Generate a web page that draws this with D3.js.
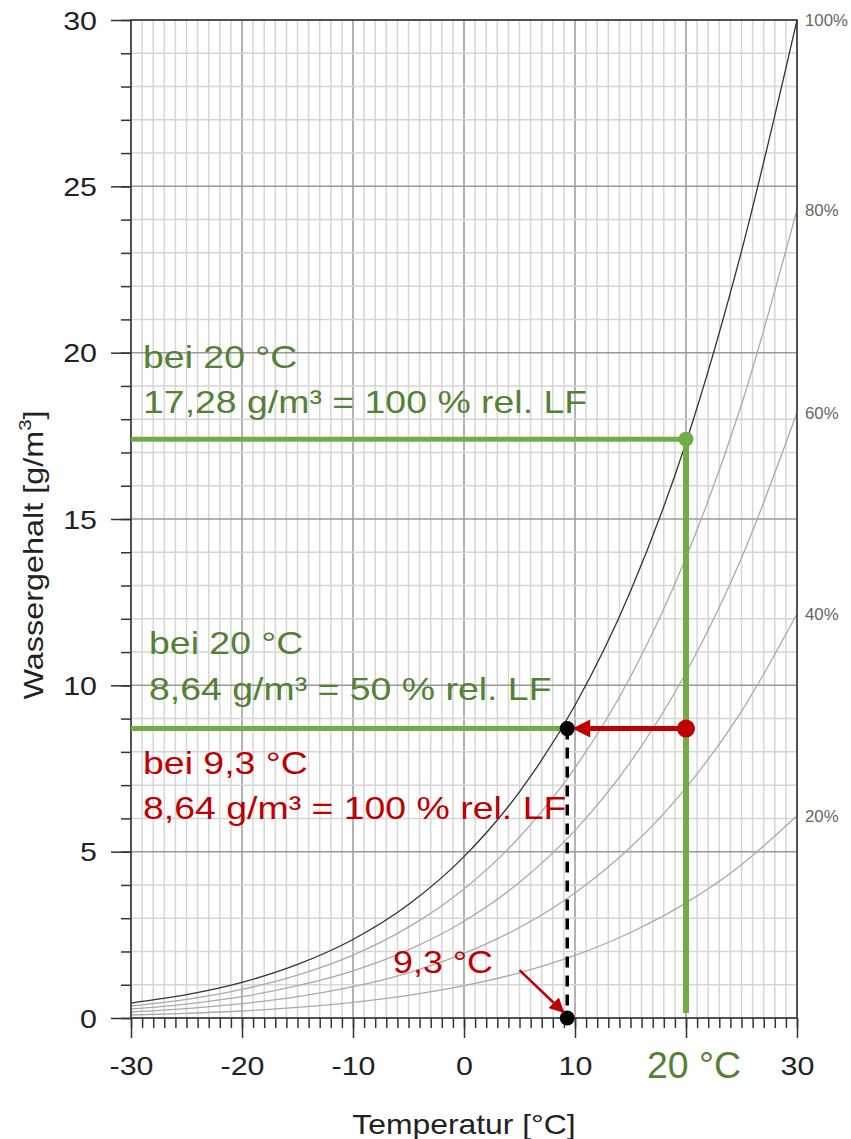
<html>
<head>
<meta charset="utf-8">
<title>Wassergehalt</title>
<script src="https://d3js.org/d3.v7.min.js"></script>
<style>
  body { margin: 0; background: #fff; }
  text { font-family: "Liberation Sans", Arial, sans-serif; }
</style>
</head>
<body>
<script>
// temperatures (°C) and water content (g/m³)
var temps = [-30, -25, -20, -15, -10, -5, 0, 5, 10, 15, 20, 25, 30]
var rh100 = [0.45, 0.70, 1.07, 1.61, 2.36, 3.41, 4.85, 6.80, 9.40, 12.83, 17.30, 23.05, 30.0]
var rh80  = [0.36, 0.56, 0.86, 1.29, 1.89, 2.73, 3.88, 5.44, 7.52, 10.26, 13.84, 18.44, 24.3]
var rh60  = [0.27, 0.42, 0.64, 0.97, 1.42, 2.05, 2.91, 4.08, 5.64, 7.70, 10.38, 13.83, 18.2]
var rh40  = [0.18, 0.28, 0.43, 0.64, 0.94, 1.36, 1.94, 2.72, 3.76, 5.13, 6.92, 9.22, 12.15]
var rh20  = [0.09, 0.14, 0.21, 0.32, 0.47, 0.68, 0.97, 1.36, 1.88, 2.57, 3.46, 4.61, 6.08]
var curveLabels = ["100%", "80%", "60%", "40%", "20%"]

var xTicks = [-30, -20, -10, 0, 10, 20, 30]
var yTicks = [0, 5, 10, 15, 20, 25, 30]

// the worked example
var tRoom = 20, wSat = 17.4, wAct = 8.7, tDew = 9.3

var width = 851, height = 1139
var svg = d3.select("body").append("svg")
  .attr("width", width)
  .attr("height", height)

var x = d3.scaleLinear().domain([-30, 30]).range([131, 797])
var y = d3.scaleLinear().domain([0, 30]).range([1018, 20])

var green = "#70ad47", greenText = "#538135", red = "#c00000"

// grid
var grid = svg.append("g")
grid.selectAll(".vx").data(d3.range(-30, 31)).enter().append("line")
  .attr("x1", d => x(d)).attr("x2", d => x(d))
  .attr("y1", y(0)).attr("y2", y(30))
  .attr("stroke", d => d % 10 == 0 ? "#9a9a9a" : "#d6d6d6")
  .attr("stroke-width", 1.5)
grid.selectAll(".hy").data(d3.range(0, 31)).enter().append("line")
  .attr("x1", x(-30)).attr("x2", x(30))
  .attr("y1", d => y(d)).attr("y2", d => y(d))
  .attr("stroke", d => d % 5 == 0 ? "#9a9a9a" : "#d6d6d6")
  .attr("stroke-width", 1.5)

// humidity curves
var series = [rh100, rh80, rh60, rh40, rh20]
var line = d3.line()
  .x((d, i) => x(temps[i]))
  .y(d => y(d))
  .curve(d3.curveMonotoneX)
svg.append("g").selectAll("path").data(series).enter().append("path")
  .attr("d", line)
  .attr("fill", "none")
  .attr("stroke", (d, i) => i == 0 ? "#333" : "#aaa")
  .attr("stroke-width", 1.3)

svg.append("g").selectAll("text").data(series).enter().append("text")
  .attr("transform", d => "translate(805," + (y(d[d.length - 1]) + 6) + ") scale(1.05,1)")
  .attr("fill", "#666")
  .attr("font-size", 16)
  .text((d, i) => curveLabels[i])

// axes
function styleAxis(g) {
  g.select(".domain").remove()
  g.selectAll("line").attr("stroke", "#333").attr("stroke-width", 1.5)
}
svg.append("g").attr("transform", "translate(" + x(-30) + ",0)")
  .call(d3.axisLeft(y).tickValues(d3.range(0, 31)).tickSize(10).tickFormat(""))
  .call(styleAxis)
var yAxisMajor = svg.append("g").attr("transform", "translate(" + x(-30) + ",0)")
  .call(d3.axisLeft(y).tickValues(yTicks).tickSize(20).tickFormat(d => String(d)))
  .call(styleAxis)
yAxisMajor.selectAll("text")
  .attr("x", null).attr("dy", null)
  .attr("transform", "translate(-34,9) scale(1.17,1)")
  .attr("font-size", 26).attr("fill", "#222")
  .attr("font-family", "Liberation Sans, Arial, sans-serif")

svg.append("g").attr("transform", "translate(0," + y(0) + ")")
  .call(d3.axisBottom(x).tickValues(d3.range(-30, 31)).tickSize(10).tickFormat(""))
  .call(styleAxis)
// the 20 label is replaced by the green "20 °C" below
var xAxisMajor = svg.append("g").attr("transform", "translate(0," + y(0) + ")")
  .call(d3.axisBottom(x).tickValues(xTicks).tickSize(20).tickFormat(d => d == tRoom ? "" : String(d)))
  .call(styleAxis)
xAxisMajor.selectAll("text")
  .attr("y", null).attr("dy", null)
  .attr("transform", "translate(0,57) scale(1.17,1)")
  .attr("font-size", 26).attr("fill", "#222")
  .attr("font-family", "Liberation Sans, Arial, sans-serif")

// frame
svg.append("rect")
  .attr("x", x(-30)).attr("y", y(30))
  .attr("width", x(30) - x(-30)).attr("height", y(0) - y(30))
  .attr("fill", "none").attr("stroke", "#333").attr("stroke-width", 1.5)

// axis titles
function label(px, py, s, size, color, sx, anchor) {
  return svg.append("text")
    .attr("transform", "translate(" + px + "," + py + ") scale(" + sx + ",1)")
    .attr("font-size", size)
    .attr("fill", color)
    .attr("text-anchor", anchor || "start")
    .text(s)
}
label(464, 1134, "Temperatur [°C]", 27, "#222", 1.18, "middle")

var yl = svg.append("text")
  .attr("transform", "translate(43,555) rotate(-90) scale(1.2,1)")
  .attr("font-size", 27).attr("fill", "#222").attr("text-anchor", "middle")
yl.append("tspan").text("Wassergehalt [g/m")
yl.append("tspan").attr("font-size", 17).attr("dy", -12).text("3")
yl.append("tspan").attr("dy", 12).text("]")

// worked example
var ann = svg.append("g")
ann.append("line")
  .attr("x1", x(-30)).attr("x2", x(tRoom)).attr("y1", y(wSat)).attr("y2", y(wSat))
  .attr("stroke", green).attr("stroke-width", 5)
ann.append("line")
  .attr("x1", x(tRoom)).attr("x2", x(tRoom)).attr("y1", y(wSat)).attr("y2", y(0.15))
  .attr("stroke", green).attr("stroke-width", 6)
ann.append("circle").attr("cx", x(tRoom)).attr("cy", y(wSat)).attr("r", 7.5).attr("fill", green)

ann.append("line")
  .attr("x1", x(-30)).attr("x2", x(tDew)).attr("y1", y(wAct)).attr("y2", y(wAct))
  .attr("stroke", green).attr("stroke-width", 5)

ann.append("line")
  .attr("x1", x(tDew)).attr("x2", x(tDew)).attr("y1", y(wAct)).attr("y2", y(0))
  .attr("stroke", "#000").attr("stroke-width", 3.5).attr("stroke-dasharray", "11,8")

ann.append("line")
  .attr("x1", x(tRoom)).attr("x2", x(tDew) + 20).attr("y1", y(wAct)).attr("y2", y(wAct))
  .attr("stroke", red).attr("stroke-width", 5)
ann.append("path")
  .attr("d", "M" + (x(tDew) + 5) + "," + y(wAct) + " l18,-9 l0,18 z")
  .attr("fill", red)
ann.append("circle").attr("cx", x(tRoom)).attr("cy", y(wAct)).attr("r", 9).attr("fill", red)
ann.append("circle").attr("cx", x(tDew)).attr("cy", y(wAct)).attr("r", 7.5).attr("fill", "#000")
ann.append("circle").attr("cx", x(tDew)).attr("cy", y(0)).attr("r", 7.5).attr("fill", "#000")

// small red arrow to the dew point
svg.append("defs").append("marker")
  .attr("id", "ah").attr("viewBox", "0 0 10 10").attr("refX", 9).attr("refY", 5)
  .attr("markerWidth", 6).attr("markerHeight", 6).attr("orient", "auto")
  .append("path").attr("d", "M0,0 L10,5 L0,10 z").attr("fill", red)
ann.append("line")
  .attr("x1", x(5.0)).attr("y1", y(1.44)).attr("x2", x(8.95)).attr("y2", y(0.18))
  .attr("stroke", red).attr("stroke-width", 2.5).attr("marker-end", "url(#ah)")

label(143, 368, "bei 20 °C", 32, greenText, 1.17)
label(143, 413, "17,28 g/m³ = 100 % rel. LF", 32, greenText, 1.17)
label(149, 654, "bei 20 °C", 32, greenText, 1.17)
label(149, 700, "8,64 g/m³ = 50 % rel. LF", 32, greenText, 1.17)
label(143, 774, "bei 9,3 °C", 32, red, 1.17)
label(143, 819, "8,64 g/m³ = 100 % rel. LF", 32, red, 1.17)
label(393, 973, "9,3 °C", 32, red, 1.12)
label(694, 1078, "20 °C", 36, greenText, 1.04, "middle")
</script>
</body>
</html>
